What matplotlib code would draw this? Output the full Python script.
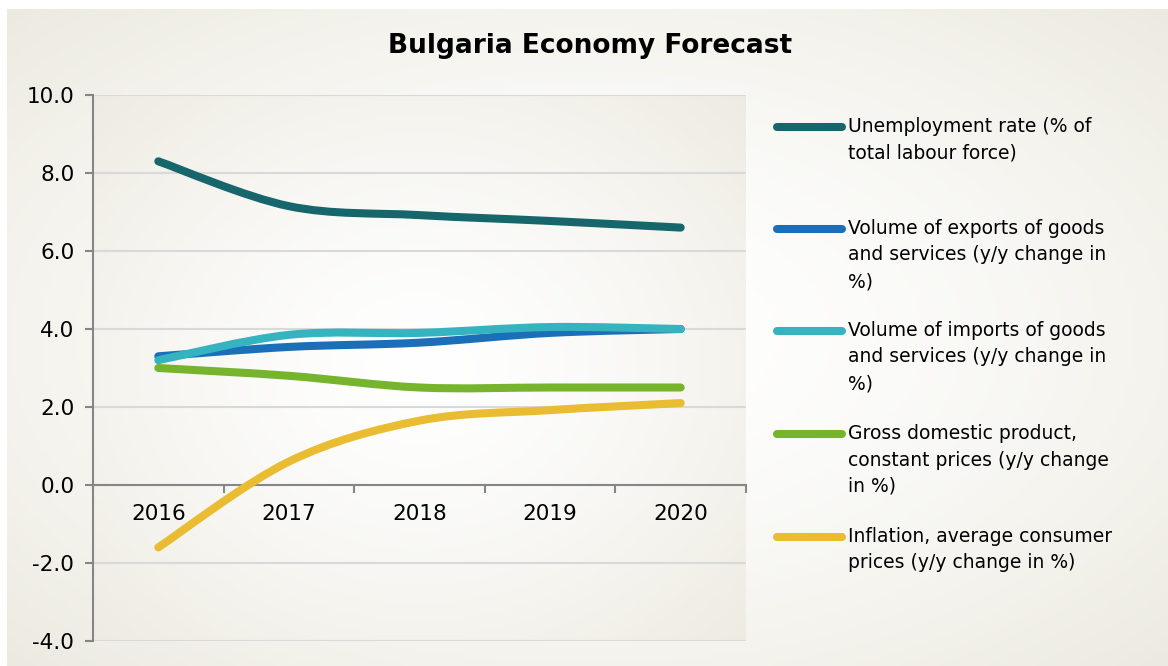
import numpy as np
import matplotlib
matplotlib.use("Agg")
import matplotlib.pyplot as plt
from matplotlib.path import Path
from matplotlib.patches import PathPatch
from matplotlib.lines import Line2D

# data
years = ["2016", "2017", "2018", "2019", "2020"]
unemployment = [8.3, 7.15, 6.92, 6.77, 6.6]
exports = [3.3, 3.54, 3.65, 3.9, 4.0]
imports = [3.2, 3.85, 3.9, 4.05, 4.0]
gdp = [3.0, 2.8, 2.5, 2.5, 2.5]
inflation = [-1.6, 0.6, 1.65, 1.92, 2.1]

labels = ["Unemployment rate (% of\ntotal labour force)",
          "Volume of exports of goods\nand services (y/y change in\n%)",
          "Volume of imports of goods\nand services (y/y change in\n%)",
          "Gross domestic product,\nconstant prices (y/y change\nin %)",
          "Inflation, average consumer\nprices (y/y change in %)"]
colors = ["#17666b", "#1b6fb8", "#35b3bf", "#76b42e", "#e9bc31"]
series = [unemployment, exports, imports, gdp, inflation]

W, H = 1168, 666
DPI = 100


def gradient(nx, ny, edge, power=1.6):
	# white in the middle, fading to a beige tone toward the edges
	x = np.linspace(-1, 1, nx)
	y = np.linspace(-1, 1, ny)
	X, Y = np.meshgrid(x, y)
	t = np.clip(np.sqrt((X ** 2 + Y ** 2) / 2.0), 0, 1) ** power
	img = np.ones((ny, nx, 3))
	for c in range(3):
		img[:, :, c] = (1 - t) + edge[c] * t
	return img


def smooth_path(xs, ys):
	# excel-like smoothed line: cubic bezier through the points
	pts = np.column_stack([xs, ys]).astype(float)
	n = len(pts)
	verts = [pts[0]]
	codes = [Path.MOVETO]
	for i in range(n - 1):
		p0 = pts[i - 1] if i > 0 else pts[i]
		p1 = pts[i]
		p2 = pts[i + 1]
		p3 = pts[i + 2] if i + 2 < n else pts[i + 1]
		c1 = p1 + (p2 - p0) / 6.0
		c2 = p2 - (p3 - p1) / 6.0
		verts += [c1, c2, p2]
		codes += [Path.CURVE4] * 3
	return Path(verts, codes)


fig = plt.figure(figsize=(W / DPI, H / DPI), dpi=DPI)
fig.patch.set_facecolor("white")

# figure background
bg = fig.add_axes([7 / W, 0, 1 - 7 / W, 1 - 9 / H])
bg.imshow(gradient(300, 170, (0.925, 0.918, 0.878)), aspect="auto", extent=[0, 1, 0, 1])
bg.set_axis_off()

ax = fig.add_axes([93 / W, 1 - 641 / H, (746 - 93) / W, (641 - 95) / H])
ax.set_zorder(2)
ax.imshow(gradient(200, 170, (0.93, 0.922, 0.885), 1.4), aspect="auto",
		  extent=[-0.5, 4.5, -4, 10], zorder=0)

x = np.arange(len(years))
for vals, col in zip(series, colors):
	p = PathPatch(smooth_path(x, vals), facecolor="none", edgecolor=col, lw=5.8,
				  capstyle="round", joinstyle="round", zorder=3)
	ax.add_patch(p)

ax.set_xlim(-0.5, 4.5)
ax.set_ylim(-4, 10)
ax.set_yticks(np.arange(-4, 10.1, 2))
ax.set_yticklabels(["%.1f" % v for v in np.arange(-4, 10.1, 2)])
ax.yaxis.grid(True, color="#d9d9d9", lw=1.5, zorder=1)
ax.set_axisbelow(True)

ax.set_xticks(np.arange(-0.5, 4.6, 1))
ax.set_xticklabels([])
ax.set_xticks(x, minor=True)
ax.set_xticklabels(years, minor=True)
ax.tick_params(axis="x", which="major", direction="out", length=6, color="#868686", width=1.5)
ax.tick_params(axis="x", which="minor", length=0, pad=14, labelsize=15.5)
ax.tick_params(axis="y", direction="out", length=6, color="#868686", width=1.5, pad=7.5,
			   labelsize=15.5)

ax.spines["top"].set_visible(False)
ax.spines["right"].set_visible(False)
ax.spines["left"].set_color("#868686")
ax.spines["left"].set_linewidth(1.5)
ax.spines["bottom"].set_position(("data", 0))
ax.spines["bottom"].set_color("#868686")
ax.spines["bottom"].set_linewidth(1.5)

fig.text(590 / W, 1 - 46 / H, "Bulgaria Economy Forecast", ha="center", va="center",
		 fontsize=19, fontweight="bold")

# legend drawn by hand so the marker sits on the first text line
leg_y = [127, 229, 331, 434, 537]
for yy, col, lab in zip(leg_y, colors, labels):
	fy = 1 - yy / H
	fig.add_artist(Line2D([777 / W, 842 / W], [fy, fy], color=col, lw=5.8,
						  solid_capstyle="round", transform=fig.transFigure))
	fig.text(848 / W, 1 - (yy - 10) / H, lab, ha="left", va="top", fontsize=13.5,
			 linespacing=1.5)

fig.savefig("out.png", dpi=DPI)
